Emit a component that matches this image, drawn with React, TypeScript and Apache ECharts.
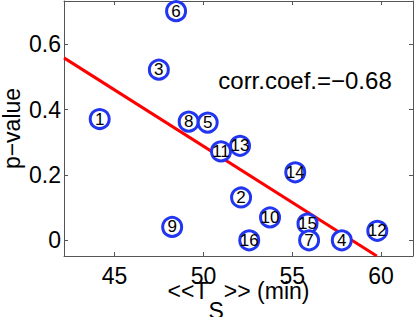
import React, { useEffect, useRef } from "react";
import * as echarts from "echarts";

const pointIds = [1, 2, 3, 4, 5, 6, 7, 8, 9, 10, 11, 12, 13, 14, 15, 16];
const tsValues = [44.16, 52.12, 47.49, 57.79, 50.24, 48.46, 55.95, 49.17, 48.24, 53.75, 50.99, 59.79, 52.06, 55.17, 55.86, 52.58];
const pValues = [0.371, 0.131, 0.522, 0.0, 0.36, 0.701, 0.0, 0.363, 0.041, 0.07, 0.272, 0.029, 0.289, 0.208, 0.051, 0.0];
const xTicks = [45, 50, 55, 60];
const yTicks = [0, 0.2, 0.4, 0.6];
const fitX = [42.15, 59.76];
const fitY = [0.558, -0.048];
const corrText = "corr.coef.=\u22120.68";
const yTitle = "p\u2212value";

const X_MIN = 42.15;
const X_MAX = 61.8;
const Y_MIN = -0.048;
const Y_MAX = 0.732;

const FONT = "'Liberation Sans', Arial, Helvetica, sans-serif";
const AXIS_COLOR = "#555555";
const BLUE = "#2236f0";

export default function App() {
  const ref = useRef<HTMLDivElement>(null);
  useEffect(() => {
    const chart = echarts.init(ref.current!, null, { renderer: "svg" });
    const points = pointIds
      .map((id, i) => [tsValues[i], pValues[i], id])
      .sort((a, b) => a[0] - b[0]);
    const lineData = fitX.map((x, i) => [x, fitY[i]]);

    const axisLine = { show: true, onZero: false, lineStyle: { color: AXIS_COLOR, width: 1 } };

    chart.setOption({
      animation: false,
      textStyle: { fontFamily: FONT },
      grid: { left: 64, right: 2, top: 1, bottom: 61, containLabel: false, outerBoundsMode: "none" },
      xAxis: [
        {
          type: "value",
          position: "bottom",
          min: X_MIN,
          max: X_MAX,
          axisLine,
          axisTick: { show: true, inside: true, length: 4, customValues: xTicks, lineStyle: { color: AXIS_COLOR } },
          axisLabel: { show: true, customValues: xTicks, fontSize: 23, color: "#000", margin: 8, fontFamily: FONT },
          splitLine: { show: false },
          name: "{a|<<T}{s|S}{a|>> (min)}",
          nameLocation: "middle",
          nameGap: 23,
          nameMoveOverlap: false,
          nameTextStyle: {
            fontFamily: FONT,
            rich: {
              a: { fontSize: 23, lineHeight: 23, verticalAlign: "top", color: "#000", fontFamily: FONT },
              s: { fontSize: 23, lineHeight: 64, verticalAlign: "middle", color: "#000", fontFamily: FONT },
            },
          },
        },
        {
          type: "value",
          position: "top",
          min: X_MIN,
          max: X_MAX,
          axisLine,
          axisTick: { show: true, inside: true, length: 4, customValues: xTicks, lineStyle: { color: AXIS_COLOR } },
          axisLabel: { show: false },
          splitLine: { show: false },
        },
      ],
      yAxis: [
        {
          type: "value",
          position: "left",
          min: Y_MIN,
          max: Y_MAX,
          axisLine,
          axisTick: { show: true, inside: true, length: 4, customValues: yTicks, lineStyle: { color: AXIS_COLOR } },
          axisLabel: { show: true, customValues: yTicks, fontSize: 23, color: "#000", margin: 3, fontFamily: FONT },
          splitLine: { show: false },
          name: yTitle,
          nameLocation: "middle",
          nameRotate: 90,
          nameGap: 41,
          nameMoveOverlap: false,
          nameTextStyle: { fontSize: 23, color: "#000", fontFamily: FONT },
        },
        {
          type: "value",
          position: "right",
          min: Y_MIN,
          max: Y_MAX,
          axisLine,
          axisTick: { show: true, inside: true, length: 4, customValues: yTicks, lineStyle: { color: AXIS_COLOR } },
          axisLabel: { show: false },
          splitLine: { show: false },
        },
      ],
      series: [
        {
          type: "line",
          data: lineData,
          xAxisIndex: 0,
          yAxisIndex: 0,
          z: 1,
          symbol: "none",
          clip: true,
          lineStyle: { color: "#ff0000", width: 3 },
          silent: true,
        },
        {
          type: "scatter",
          data: points,
          xAxisIndex: 0,
          yAxisIndex: 0,
          z: 2,
          symbol: "circle",
          symbolSize: 19,
          itemStyle: { color: "#ffffff", borderColor: BLUE, borderWidth: 3, opacity: 1 },
          label: {
            show: true,
            position: "inside",
            formatter: (p: any) => String(p.data[2]),
            fontSize: 17,
            color: "#000",
            fontFamily: FONT,
          },
          emphasis: { disabled: true },
          silent: true,
        },
      ],
      graphic: [
        {
          type: "text",
          x: 305,
          y: 80,
          z: 10,
          style: {
            text: corrText,
            fontSize: 24,
            fill: "#000",
            align: "center",
            verticalAlign: "middle",
            fontFamily: FONT,
          },
        },
      ],
    });
    return () => chart.dispose();
  }, []);
  return (
    <div
      ref={ref}
      style={{ position: "fixed", left: 0, top: 0, width: 415, height: 317, background: "#fff" }}
    />
  );
}
